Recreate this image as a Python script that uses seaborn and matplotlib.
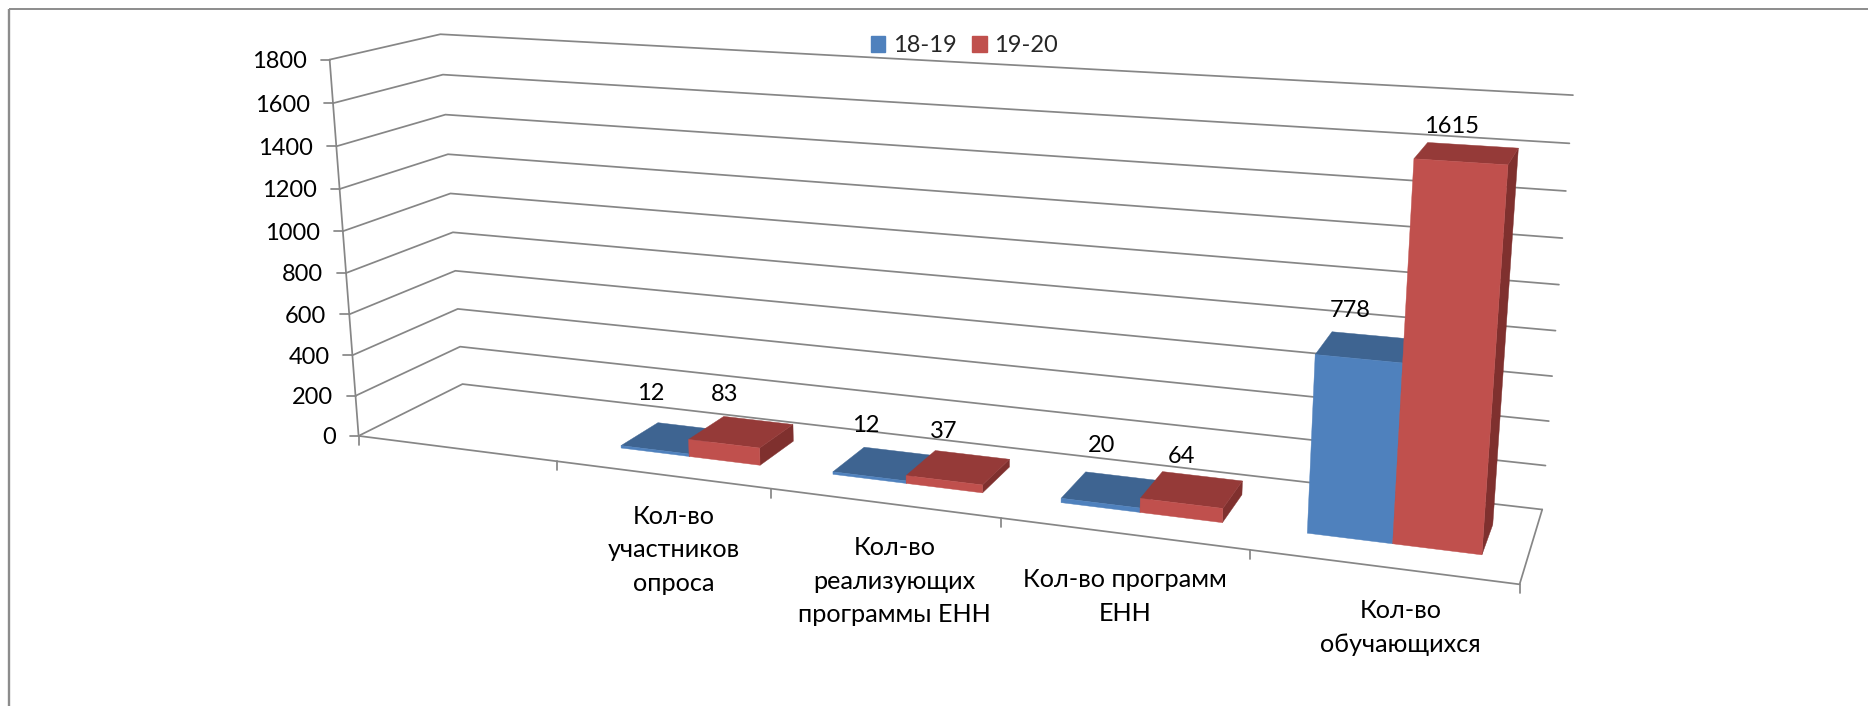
import numpy as np
import pandas as pd
import matplotlib
matplotlib.use("Agg")
import matplotlib.pyplot as plt
from matplotlib.patches import Patch
import seaborn as sns

categories = ["Кол-во\nучастников\nопроса", "Кол-во\nреализующих\nпрограммы ЕНН",
              "Кол-во программ\nЕНН", "Кол-во\nобучающихся"]
series_names = ["18-19", "19-20"]
values_1819 = [12, 12, 20, 778]
values_1920 = [83, 37, 64, 1615]
y_ticks = [0, 200, 400, 600, 800, 1000, 1200, 1400, 1600, 1800]
n_slots = 5          # the original axis has an empty first category slot

sns.set_theme(style="white")
plt.rcParams["font.family"] = ["Lato", "DejaVu Sans"]
palette = sns.color_palette(["#4F81BD", "#C0504D"])
top_shade = ["#3E6491", "#953A38"]
side_shade = ["#355578", "#7F302E"]
GRID = "#868686"
FS = 17.0
FS_CAT = 18.2

# perspective camera: calibrated from the box corners of the 3-D chart
calib = [((0, 0, 0), (358, 436)), ((1, 0, 0), (558, 461.5)), ((2, 0, 0), (769, 488)),
         ((3, 0, 0), (1001, 518)), ((4, 0, 0), (1251, 550)), ((5, 0, 0), (1519, 584)),
         ((5, 1, 0), (1542, 510)), ((0, 1, 0), (463, 384)), ((0, 0, 1), (330, 60)),
         ((0, 1, 1), (440, 34)), ((5, 1, 1), (1573, 95))]
rows = []
for (a, b, c), (u, v) in calib:
    u, v = u / 1000, v / 1000
    rows.append([a, b, c, 1, 0, 0, 0, 0, -u * a, -u * b, -u * c, -u])
    rows.append([0, 0, 0, 0, a, b, c, 1, -v * a, -v * b, -v * c, -v])
P = np.linalg.svd(np.array(rows))[2][-1].reshape(3, 4)


def proj(x, d, val):
    w = P @ np.array([x, d, val / max(y_ticks), 1.0])
    return w[0] / w[2] * 1000, w[1] / w[2] * 1000


fig = plt.figure(figsize=(18.68, 7.06), dpi=100)
ax = fig.add_axes([0, 0, 1, 1])
ax.set_xlim(0, 1868)
ax.set_ylim(706, 0)
ax.axis("off")

# outer chart frame
ax.plot([9, 9], [706, 9], color="#8c8c8c", lw=1.7, solid_capstyle="butt")
ax.plot([9, 1868], [9, 9], color="#8c8c8c", lw=1.4, solid_capstyle="butt")

# gridlines on side and back walls, plus floor
frames = []
for t in y_ticks:
    pts = [proj(0, 0, t), proj(0, 1, t), proj(n_slots, 1, t)]
    frames.append(pd.DataFrame(pts, columns=["px", "py"]).assign(level=f"g{t}"))
floor = [proj(0, 0, 0), proj(n_slots, 0, 0), proj(n_slots, 1, 0)]
frames.append(pd.DataFrame(floor, columns=["px", "py"]).assign(level="floor"))
axis_v = [proj(0, 0, 0), proj(0, 0, max(y_ticks))]
frames.append(pd.DataFrame(axis_v, columns=["px", "py"]).assign(level="axis"))
lines = pd.concat(frames, ignore_index=True)
sns.lineplot(data=lines, x="px", y="py", units="level", estimator=None, sort=False,
             color=GRID, lw=1.25, ax=ax, legend=False, zorder=1)
ax.set_xlabel("")
ax.set_ylabel("")
ax.set_xlim(0, 1868)
ax.set_ylim(706, 0)

# axis ticks and value labels
for t in y_ticks:
    x0, y0 = proj(0, 0, t)
    ax.plot([x0 - 9, x0], [y0, y0], color=GRID, lw=1.25, zorder=1)
    ax.text(x0 - 23, y0 + 2, str(t), ha="right", va="center", fontsize=FS, color="black")
for s in range(n_slots + 1):
    x0, y0 = proj(s, 0, 0)
    ax.plot([x0, x0], [y0, y0 + 9], color=GRID, lw=1.25, zorder=1)

# bars
GAP_L, GAP_R = 0.171, 0.165
D0, D1 = 0.30, 0.71
label_shift = [[(-40, -33), (-34, -26)], [(-34, -26), (-28, -23)],
               [(-22, -31), (-21, -20)], [(-24, -25), (-21, -19)]]
series = [values_1819, values_1920]
z = 3
for i in range(len(categories)):
    for k, vals in enumerate(series):
        h = vals[i]
        x0 = i + 1 + (GAP_L if k == 0 else 0.5)
        x1 = i + 1 + (0.5 if k == 0 else 1 - GAP_R)
        side = [proj(x1, D0, 0), proj(x1, D1, 0), proj(x1, D1, h), proj(x1, D0, h)]
        front = [proj(x0, D0, 0), proj(x1, D0, 0), proj(x1, D0, h), proj(x0, D0, h)]
        top = [proj(x0, D0, h), proj(x1, D0, h), proj(x1, D1, h), proj(x0, D1, h)]
        for face, col in ((side, side_shade[k]), (top, top_shade[k]), (front, palette[k])):
            ax.fill(*zip(*face), color=col, lw=0.3, zorder=z)
        z += 1
        cx, cy = proj((x0 + x1) / 2, D1, h)
        dx, dy = label_shift[i][k]
        ax.text(cx + dx, cy + dy, str(h), ha="center", va="center", fontsize=FS,
                color="black", zorder=20)

# category labels
cat_shift = [(12, 75), (11, 78), (2, 63), (19, 61)]
for i, lab in enumerate(categories):
    cx, cy = proj(i + 1.5, 0, 0)
    dx, dy = cat_shift[i]
    ax.text(cx + dx, cy + dy, lab, ha="center", va="center", fontsize=FS_CAT, color="black",
            linespacing=1.55, zorder=20)

handles = [Patch(color=palette[k], label=series_names[k]) for k in range(2)]
ax.legend(handles=handles, ncols=2, frameon=False, loc="center",
          bbox_to_anchor=(964, 46), bbox_transform=ax.transData, fontsize=FS,
          handlelength=0.63, handleheight=0.63, handletextpad=0.3, columnspacing=0.65,
          borderpad=0, borderaxespad=0)

fig.savefig("out.png", dpi=100, facecolor="white")
